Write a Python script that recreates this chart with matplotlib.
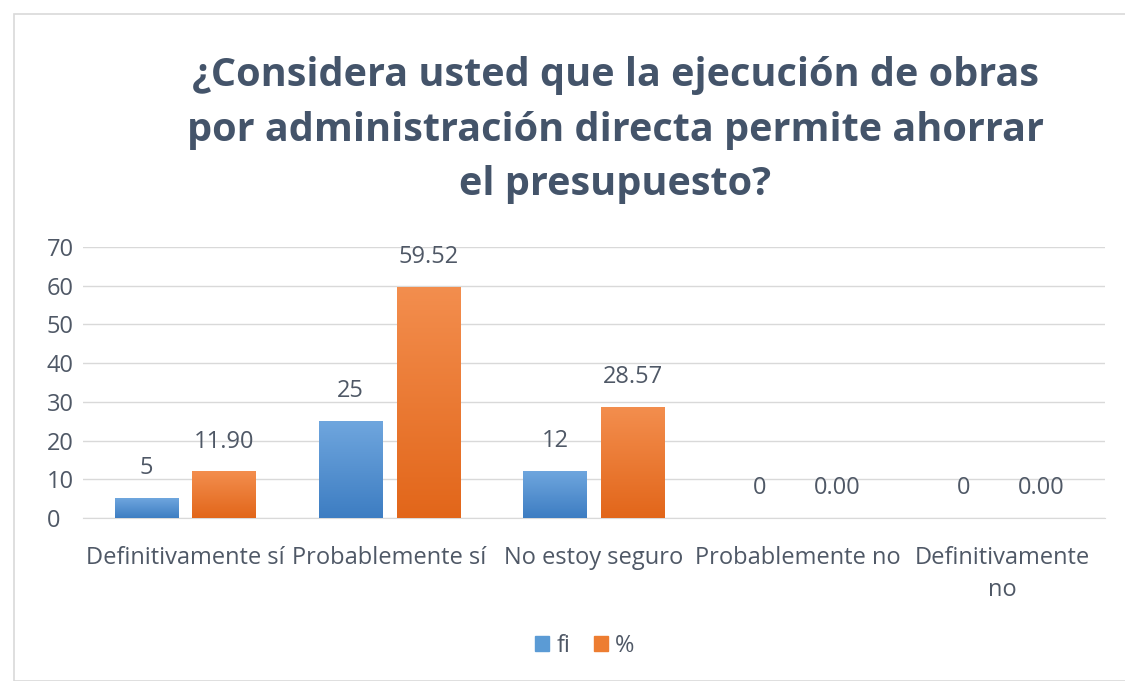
import numpy as np
import matplotlib.pyplot as plt
from matplotlib.colors import LinearSegmentedColormap
from matplotlib.patches import Rectangle

plt.rcParams['font.family'] = ['Open Sans', 'DejaVu Sans']

categories = ['Definitivamente sí', 'Probablemente sí', 'No estoy seguro',
              'Probablemente no', 'Definitivamente\nno']
fi = [5, 25, 12, 0, 0]
pct = [11.90, 59.52, 28.57, 0.00, 0.00]
title = '¿Considera usted que la ejecución de obras\npor administración directa permite ahorrar\nel presupuesto?'

TEXT = '#4F5866'
blue_cm = LinearSegmentedColormap.from_list('b', ['#3D7DC2', '#6FA6DE'])
orange_cm = LinearSegmentedColormap.from_list('o', ['#E2661A', '#F38E4E'])


def grad_bar(ax, x, w, h, cmap):
    if h <= 0:
        return
    grad = np.linspace(0, 1, 256).reshape(-1, 1)
    ax.imshow(grad, extent=[x - w / 2, x + w / 2, 0, h], origin='lower',
              aspect='auto', cmap=cmap, zorder=3)


fig = plt.figure(figsize=(11.25, 6.81), dpi=100)
fig.patches.append(Rectangle((14 / 1125, 0), 1, 1 - 14 / 681, transform=fig.transFigure,
                             fill=False, edgecolor='#D9D9D9', linewidth=1.2))
ax = fig.add_axes([0.0738, 0.2394, 0.908, 0.398])

x = np.arange(len(categories))
w = 0.31
off = 0.19
for i in range(len(categories)):
    grad_bar(ax, x[i] - off, w, fi[i], blue_cm)
    grad_bar(ax, x[i] + off, w, pct[i], orange_cm)
    ax.text(x[i] - off, fi[i] + 7.8, f'{fi[i]}', ha='center', va='center',
            fontsize=17, color=TEXT)
    ax.text(x[i] + off, pct[i] + 7.8, f'{pct[i]:.2f}', ha='center', va='center',
            fontsize=17, color=TEXT)

ax.set_xlim(-0.5, len(categories) - 0.5)
ax.set_ylim(0, 70)
ax.set_yticks(range(0, 71, 10))
ax.set_xticks(x)
ax.set_xticklabels(categories, linespacing=1.45)
ax.tick_params(axis='both', length=0, labelsize=17, colors=TEXT)
ax.tick_params(axis='x', pad=20)
ax.tick_params(axis='y', pad=26)
for t in ax.get_yticklabels():
    t.set_horizontalalignment('left')
ax.grid(axis='y', color='#D9D9D9', linewidth=1, zorder=0)
ax.set_axisbelow(True)
for s in ['top', 'right', 'left']:
    ax.spines[s].set_visible(False)
ax.spines['bottom'].set_color('#D9D9D9')

fig.text(0.547, 0.809, title, ha='center', va='center', fontsize=28.5,
         fontweight='bold', color='#44546A', linespacing=1.52)

handles = [Rectangle((0, 0), 1, 1, color='#5B9BD5'), Rectangle((0, 0), 1, 1, color='#ED7D31')]
fig.legend(handles, ['fi', '%'], loc='center', bbox_to_anchor=(0.52, 0.052), ncol=2,
           frameon=False, fontsize=17, handlelength=0.6, handleheight=0.6,
           handletextpad=0.3, columnspacing=1.0, labelcolor=TEXT)

fig.savefig('out.png', dpi=100)
